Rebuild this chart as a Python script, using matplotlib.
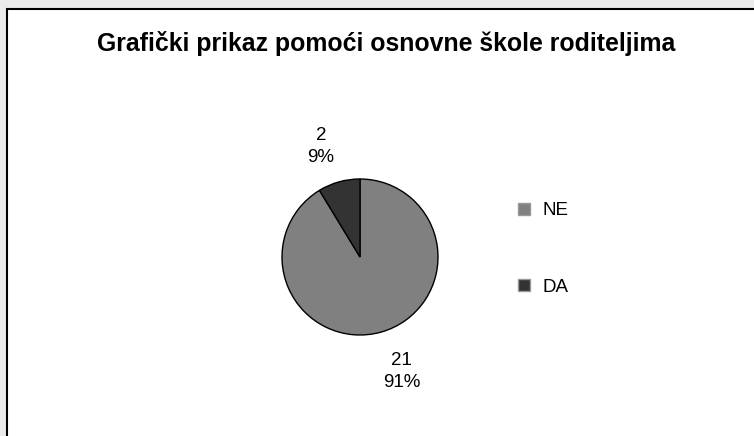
import matplotlib.pyplot as plt
from matplotlib.patches import Rectangle

# data
categories = ["NE", "DA"]
counts = [21, 2]
percents = [91, 9]
colors = ["#808080", "#333333"]

plt.rcParams['font.family'] = ['Liberation Sans', 'DejaVu Sans']

W, H = 754, 436
fig = plt.figure(figsize=(W / 100, H / 100), dpi=100, facecolor="#ebebeb")

# white chart area with black frame on top / left (right and bottom cut off)
fig.add_artist(Rectangle((6.5 / W, -0.1), 1.2, (H - 9.5) / H + 0.1,
                         transform=fig.transFigure, facecolor="white",
                         edgecolor="black", linewidth=1.5, zorder=0))

fig.text(386.5 / W, 1 - 51 / H, "Grafički prikaz pomoći osnovne škole roditeljima",
         ha="center", va="baseline", fontsize=17.9, fontweight="bold")

# pie: centre (360, 257) px, radius 78 px
cx, cy, r = 360, 257, 78
ax = fig.add_axes([(cx - r) / W, (H - cy - r) / H, 2 * r / W, 2 * r / H])
labels = ["{}\n{}%".format(c, p) for c, p in zip(counts, percents)]
wedges, texts = ax.pie(counts, colors=colors, labels=labels, startangle=90,
                       counterclock=False, labeldistance=1.52,
                       wedgeprops=dict(edgecolor="black", linewidth=1.0),
                       textprops=dict(fontsize=13.5))
# nudge labels like Excel's outside-end placement
shifts = [(0.12, 0.0), (-0.09, -0.05)]
for t, (dx, dy) in zip(texts, shifts):
    x, y = t.get_position()
    t.set_position((x + dx, y + dy))
    t.set_ha("center")
    t.set_va("center")
    t.set_linespacing(1.4)
ax.set_xlim(-1, 1)
ax.set_ylim(-1, 1)

fig.legend(wedges, categories, loc="center left",
           bbox_to_anchor=(518 / W, 1 - 249 / H), frameon=False, fontsize=13.5,
           borderpad=0, borderaxespad=0,
           handlelength=0.64, handleheight=0.64, handletextpad=0.64,
           labelspacing=3.15)
for h in fig.legends[0].legend_handles:
    h.set_edgecolor("#999999")

fig.savefig("out.png", dpi=100, facecolor=fig.get_facecolor())
